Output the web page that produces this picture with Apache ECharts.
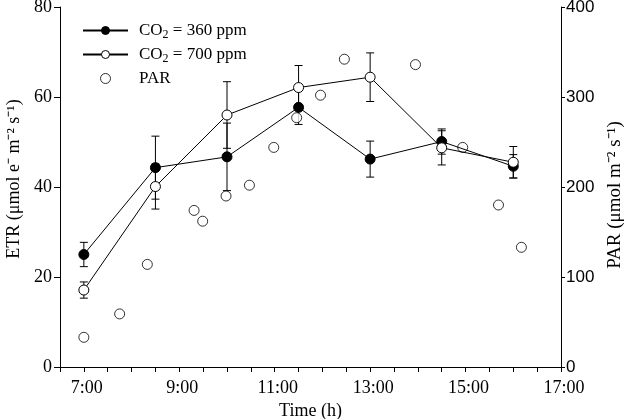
<!DOCTYPE html>
<html>
<head>
<meta charset="utf-8">
<script src="https://cdn.jsdelivr.net/npm/echarts@6/dist/echarts.min.js"></script>
<style>
  html, body { margin: 0; padding: 0; background: #fff; }
  #main { width: 630px; height: 419px; }
</style>
</head>
<body>
<div id="main"></div>
<script>
// sampling times (h) for the ETR measurements
var hours = [7, 8.5, 10, 11.5, 13, 14.5, 16];
// ETR at CO2 = 360 ppm, mean and error
var etr360 = [25.0, 44.3, 46.7, 57.7, 46.2, 50.1, 44.6];
var err360 = [2.7, 7.0, 7.5, 3.8, 4.0, 2.8, 2.6];
// ETR at CO2 = 700 ppm, mean and error
var etr700 = [17.1, 40.1, 56.0, 62.1, 64.4, 48.7, 45.5];
var err700 = [1.8, 5.0, 7.4, 4.9, 5.4, 3.8, 3.5];
// PAR readings (right axis)
var parHours = [7, 7.75, 8.33, 9.31, 9.49, 9.98, 10.47, 10.98, 11.46, 11.96, 12.46, 13.95, 14.94, 15.69, 16.17];
var parValues = [33, 59, 114, 174, 162, 190, 202, 244, 277, 302, 342, 336, 244, 180, 133];
var xTickLabels = ['7:00', '9:00', '11:00', '13:00', '15:00', '17:00'];

var serif = 'Liberation Serif';
var sans = 'Liberation Sans';

var myChart = echarts.init(document.getElementById('main'));

function pairs(xs, ys) {
    return xs.map(function(x, i) { return [x, ys[i]]; });
}
function bars(xs, ys, es) {
    return xs.map(function(x, i) { return [x, ys[i] - es[i], ys[i] + es[i]]; });
}

// 误差线
function errorBar(params, api) {
    var x = api.value(0);
    var lo = api.coord([x, api.value(1)]);
    var hi = api.coord([x, api.value(2)]);
    var hw = 4;
    var st = { stroke: '#000', lineWidth: 1 };
    return {
        type: 'group',
        children: [
            { type: 'line', shape: { x1: hi[0], y1: hi[1], x2: lo[0], y2: lo[1] }, style: st },
            { type: 'line', shape: { x1: hi[0] - hw, y1: hi[1], x2: hi[0] + hw, y2: hi[1] }, style: st },
            { type: 'line', shape: { x1: lo[0] - hw, y1: lo[1], x2: lo[0] + hw, y2: lo[1] }, style: st }
        ]
    };
}

var names = ['CO2 = 360 ppm', 'CO2 = 700 ppm', 'PAR'];

var option = {
    animation: false,
    grid: { left: 60, right: 69, top: 7, bottom: 52, outerBoundsMode: 'none', containLabel: false },
    legend: {
        data: names,
        orient: 'vertical',
        left: 77,
        top: 17,
        itemWidth: 45,
        itemHeight: 10,
        itemGap: 5,
        itemStyle: { borderWidth: 1 },
        formatter: function(name) {
            if (name === 'PAR') return '{a|PAR}';
            return '{a|CO}{sub|2}{a|' + name.slice(3) + '}';
        },
        textStyle: {
            padding: [0, 0, 0, 6],
            rich: {
                a: { fontFamily: serif, fontSize: 17, color: '#000' },
                sub: { fontFamily: serif, fontSize: 12, color: '#000', padding: [9, 0, 0, 0] }
            }
        }
    },
    xAxis: {
        type: 'value',
        min: 6.5,
        max: 17,
        interval: 0.5,
        name: 'Time (h)',
        nameLocation: 'middle',
        nameGap: 31,
        nameTextStyle: { fontFamily: serif, fontSize: 18, color: '#000' },
        axisLine: { lineStyle: { color: '#000', width: 1 } },
        axisTick: { inside: false, length: 5, lineStyle: { color: '#000' } },
        splitLine: { show: false },
        axisLabel: {
            margin: 12,
            padding: [0, 0, 0, 6],
            fontFamily: serif,
            fontSize: 18,
            color: '#000',
            formatter: function(v) {
                var i = xTickLabels.indexOf(v + ':00');
                return (v % 1 === 0 && i >= 0) ? xTickLabels[i] : '';
            }
        }
    },
    yAxis: [
        {
            type: 'value',
            min: 0,
            max: 80,
            interval: 20,
            position: 'left',
            name: 'ETR (μmol e⁻ m⁻² s⁻¹)',
            nameLocation: 'middle',
            nameGap: 36,
            nameTextStyle: { fontFamily: serif, fontSize: 18, color: '#000', padding: [0, 0, 0, 16] },
            axisLine: { show: true, lineStyle: { color: '#000', width: 1 } },
            axisTick: { show: true, inside: false, length: 6, lineStyle: { color: '#000' } },
            splitLine: { show: false },
            axisLabel: { margin: 8, fontFamily: serif, fontSize: 18, color: '#000' }
        },
        {
            type: 'value',
            min: 0,
            max: 400,
            interval: 100,
            position: 'right',
            name: 'PAR (μmol m⁻² s⁻¹)',
            nameLocation: 'middle',
            nameGap: 42,
            nameTextStyle: { fontFamily: serif, fontSize: 19, color: '#000', padding: [0, 16, 0, 0] },
            axisLine: { show: true, lineStyle: { color: '#000', width: 1 } },
            axisTick: { show: true, inside: false, length: 4, lineStyle: { color: '#000' } },
            splitLine: { show: false },
            axisLabel: { margin: 5, fontFamily: sans, fontSize: 17, color: '#000' }
        }
    ],
    series: [
        {
            name: 'err360',
            type: 'custom',
            yAxisIndex: 0,
            renderItem: errorBar,
            encode: { x: 0, y: [1, 2] },
            z: 1,
            data: bars(hours, etr360, err360)
        },
        {
            name: 'err700',
            type: 'custom',
            yAxisIndex: 0,
            renderItem: errorBar,
            encode: { x: 0, y: [1, 2] },
            z: 1,
            data: bars(hours, etr700, err700)
        },
        {
            name: names[2],
            type: 'scatter',
            yAxisIndex: 1,
            symbol: 'circle',
            symbolSize: 10,
            itemStyle: { color: '#fff', borderColor: '#000', borderWidth: 1 },
            z: 2,
            data: pairs(parHours, parValues)
        },
        {
            name: names[0],
            type: 'line',
            yAxisIndex: 0,
            symbol: 'circle',
            symbolSize: 10,
            lineStyle: { color: '#000', width: 1 },
            itemStyle: { color: '#000', borderColor: '#000', borderWidth: 1 },
            z: 3,
            data: pairs(hours, etr360)
        },
        {
            name: names[1],
            type: 'line',
            yAxisIndex: 0,
            symbol: 'circle',
            symbolSize: 10,
            lineStyle: { color: '#000', width: 1 },
            itemStyle: { color: '#fff', borderColor: '#000', borderWidth: 1 },
            z: 4,
            data: pairs(hours, etr700)
        }
    ]
};

myChart.setOption(option);
</script>
</body>
</html>
